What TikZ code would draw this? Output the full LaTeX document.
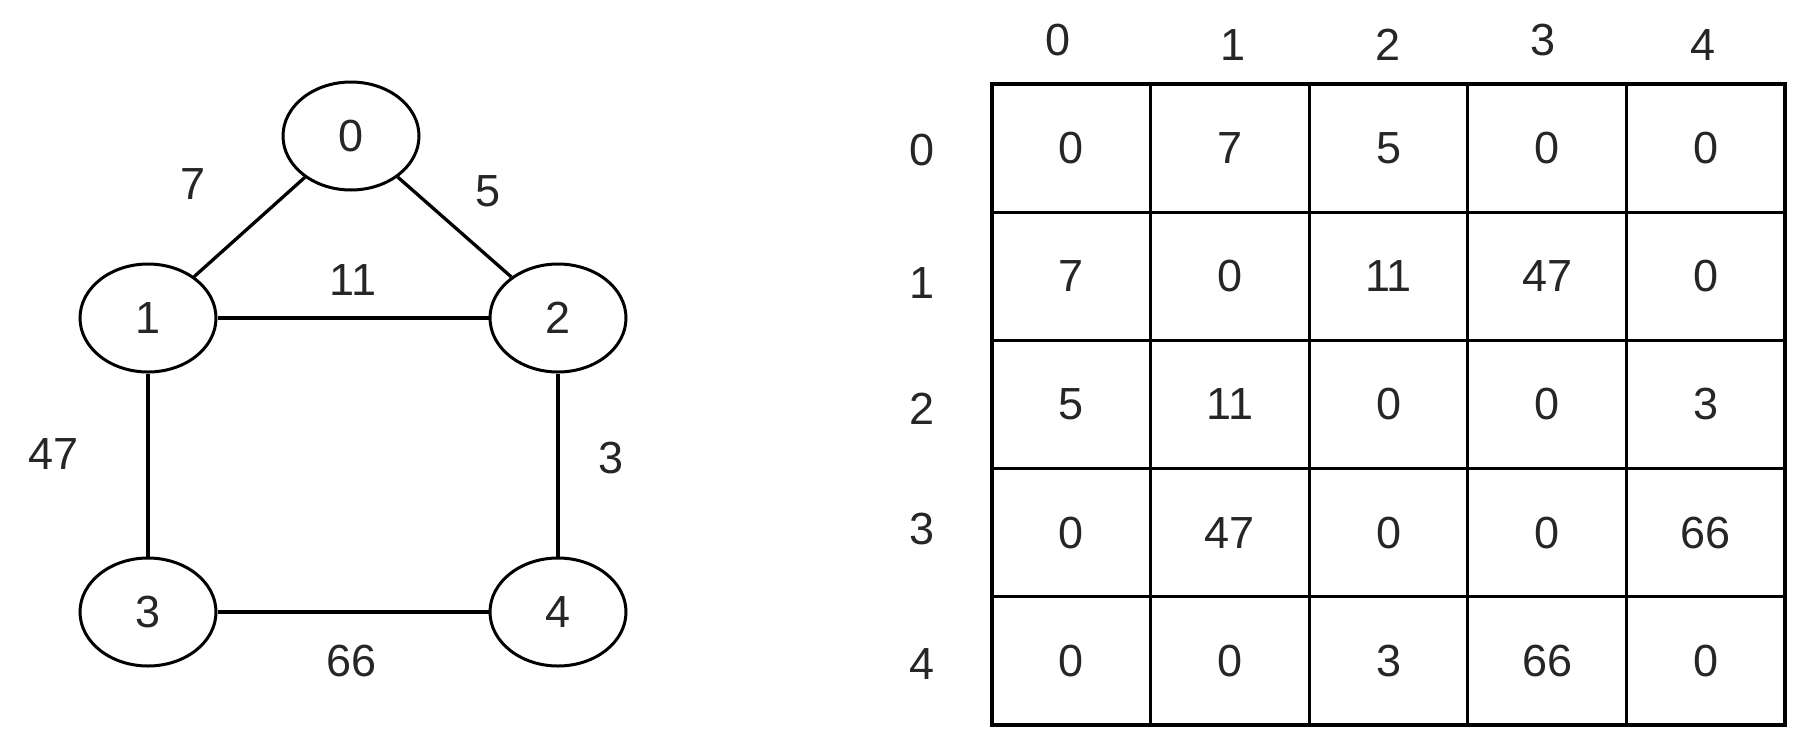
\documentclass[tikz,border=0pt]{standalone}
\usepackage{fontspec}
\setmainfont{Liberation Sans}
\usetikzlibrary{shapes.geometric}
\begin{document}
\begin{tikzpicture}[x=1pt,y=-1pt,
  every node/.style={font=\fontsize{45}{54}\selectfont, text=black!85},
  vertex/.style={ellipse, draw=black, line width=3pt, minimum width=136pt, minimum height=108pt, inner sep=0pt},
  edge/.style={draw=black, line width=3.3pt},
  lbl/.style={inner sep=0pt},
  cell/.style={rectangle, draw=black, line width=3.3pt, minimum width=158.6pt, minimum height=128.2pt, inner sep=0pt, outer sep=0pt}]
\useasboundingbox (0,0) rectangle (1815,750);
\fill[white] (0,0) rectangle (1815,750);

% graph
\node[vertex] (n0) at (351,136) {0};
\node[vertex] (n1) at (148,318) {1};
\node[vertex] (n2) at (558,318) {2};
\node[vertex] (n3) at (148,612) {3};
\node[vertex] (n4) at (558,612) {4};
\draw[edge] (n0) -- (n1);
\draw[edge] (n0) -- (n2);
\draw[edge] (n1) -- (n2);
\draw[edge] (n1) -- (n3);
\draw[edge] (n2) -- (n4);
\draw[edge] (n3) -- (n4);
\node[lbl] (w01) at (193,184) {7};
\node[lbl] (w02) at (488,191) {5};
\node[lbl] (w12) at (353,280) {11};
\node[lbl] (w13) at (54,454) {47};
\node[lbl] (w24) at (611,458) {3};
\node[lbl] (w34) at (352,661) {66};

% matrix
\foreach \r/\vals in {0/{0,7,5,0,0},1/{7,0,11,47,0},2/{5,11,0,0,3},3/{0,47,0,0,66},4/{0,0,3,66,0}}{
  \foreach \v [count=\c from 0] in \vals {
    \node[cell] (c-\r-\c) at ({992+158.6*(\c+0.5)},{84+128.2*(\r+0.5)}) {\v};
  }
}
\draw[line width=4.5pt] (c-0-0.north west) rectangle (c-4-4.south east);

% column headers
\node[lbl] (h0) at (1058,40) {0};
\node[lbl] (h1) at (1233,45) {1};
\node[lbl] (h2) at (1388,45) {2};
\node[lbl] (h3) at (1543,40) {3};
\node[lbl] (h4) at (1703,45) {4};
% row headers
\node[lbl] (r0) at (922,150) {0};
\node[lbl] (r1) at (922,283) {1};
\node[lbl] (r2) at (922,409) {2};
\node[lbl] (r3) at (922,529) {3};
\node[lbl] (r4) at (922,664) {4};
\end{tikzpicture}
\end{document}
